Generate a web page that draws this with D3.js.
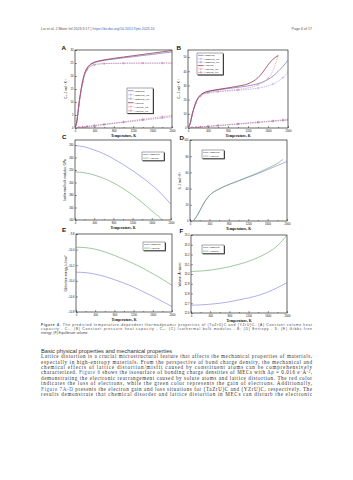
<!DOCTYPE html>
<html>
<head>
<meta charset="utf-8">
<script src="https://cdn.jsdelivr.net/npm/d3@7"></script>
<style>
  body { margin: 0; background: #fff; }
  svg { display: block; }
</style>
</head>
<body>
<script>
'use strict';

// ---- data ----
const tempTicks = [0, 400, 800, 1200, 1600, 2000];

// (A) constant volume heat capacity
const tempA = [0, 40, 80, 120, 160, 200, 250, 300, 400, 500, 600, 800, 1000, 1200, 1400, 1600, 1800, 2000];
const cvTaTot = [0, 2.6, 8.7, 13.8, 17.8, 20.7, 22.8, 24.0, 25.1, 25.6, 26.0, 26.5, 27.0, 27.4, 27.9, 28.3, 28.8, 29.2];
const cvTaVib = [0, 2.5, 8.5, 13.5, 17.5, 20.3, 22.3, 23.4, 24.3, 24.6, 24.75, 24.85, 24.9, 24.92, 24.94, 24.95, 24.96, 24.97];
const cvTaEle = [0, 0.09, 0.17, 0.26, 0.34, 0.43, 0.54, 0.65, 0.86, 1.08, 1.29, 1.72, 2.15, 2.58, 3.01, 3.44, 3.87, 4.3];
const cvYTot = [0, 2.9, 9.2, 14.3, 18.3, 21.1, 23.1, 24.2, 25.3, 25.85, 26.2, 26.8, 27.3, 27.8, 28.3, 28.8, 29.3, 29.8];
const cvYVib = [0, 2.8, 9.0, 14.0, 17.9, 20.6, 22.5, 23.5, 24.35, 24.65, 24.78, 24.87, 24.91, 24.93, 24.95, 24.96, 24.97, 24.98];
const cvYEle = [0, 0.1, 0.19, 0.29, 0.38, 0.48, 0.6, 0.72, 0.96, 1.2, 1.44, 1.92, 2.4, 2.88, 3.36, 3.84, 4.32, 4.8];

// (B) constant pressure heat capacity
const tempB = [0, 40, 80, 120, 160, 200, 250, 300, 400, 500, 600, 800, 1000, 1200, 1400, 1600, 1700, 1800, 1900, 2000];
const tempBY = [0, 40, 80, 120, 160, 200, 250, 300, 400, 500, 600, 800, 1000, 1200, 1400, 1500, 1600, 1700, 1800];
const cpTaTot = [0, 2.6, 8.7, 13.8, 18.0, 20.9, 23.0, 24.3, 25.6, 26.3, 26.9, 27.8, 28.7, 29.7, 31.3, 34.2, 36.6, 39.8, 43.5, 47.8];
const cpTaVib = [0, 2.5, 8.5, 13.5, 17.6, 20.4, 22.4, 23.6, 24.7, 25.2, 25.6, 26.1, 26.6, 27.2, 28.1, 29.7, 31.0, 32.9, 35.6, 39.3];
const cpTaEle = [0, 0.1, 0.2, 0.3, 0.4, 0.5, 0.65, 0.8, 1.1, 1.35, 1.65, 2.2, 2.75, 3.3, 3.85, 4.4, 4.7, 5.0, 5.3, 5.6];
const cpYTot = [0, 2.9, 9.2, 14.3, 18.4, 21.2, 23.3, 24.6, 25.9, 26.6, 27.2, 28.3, 29.5, 31.2, 35.5, 39.5, 44.5, 48.5, 51.0];
const cpYVib = [0, 2.8, 9.0, 14.0, 18.0, 20.7, 22.7, 23.9, 25.0, 25.5, 25.9, 26.5, 27.2, 28.3, 30.5, 32.3, 35.0, 40.5, 51.0];
const cpYEle = [0, 0.12, 0.24, 0.36, 0.48, 0.6, 0.75, 0.9, 1.2, 1.5, 1.8, 2.4, 3.0, 3.6, 4.2, 4.8, 5.1, 5.4, 5.7, 6.0];

// (C) isothermal bulk modulus, GPa
const tempC = [0, 200, 400, 600, 800, 1000, 1200, 1400, 1600, 1800, 2000];
const tempCY = [0, 200, 400, 600, 800, 1000, 1200, 1400, 1600, 1800, 1840];
const bulkTa = [259, 257, 252, 246, 238, 229, 219, 208, 196, 182, 165];
const bulkY = [217, 215.5, 212, 206.5, 199.5, 190.5, 180, 168, 154.5, 141.5, 138];

// (D) entropy
const tempD = [70, 100, 150, 200, 300, 400, 600, 800, 1000, 1200, 1400, 1600, 1800, 2000];
const tempDY = [70, 100, 150, 200, 300, 400, 600, 800, 1000, 1200, 1400, 1600, 1800, 1920];
const entTa = [0, 2.5, 7, 12.5, 23.5, 31.5, 39.5, 45, 49.5, 54, 58.5, 63.5, 68.5, 73.5];
const entY = [0, 2.5, 7, 12.5, 23.5, 31.5, 39.5, 45, 49.7, 54.5, 59.5, 65, 71, 76.2];

// (E) Gibbs free energy
const tempE = [0, 200, 400, 600, 800, 1000, 1200, 1400, 1600, 1800, 2000];
const gibbsTa = [-10.29, -10.295, -10.315, -10.345, -10.385, -10.43, -10.48, -10.54, -10.6, -10.665, -10.73];
const gibbsY = [-9.97, -9.975, -9.995, -10.03, -10.075, -10.125, -10.18, -10.24, -10.31, -10.38, -10.46];

// (F) equilibrium volume
const volTa = [12.68, 12.683, 12.69, 12.70, 12.715, 12.735, 12.755, 12.78, 12.815, 12.86, 12.91];
const volY = [13.026, 13.03, 13.04, 13.055, 13.075, 13.1, 13.13, 13.17, 13.22, 13.29, 13.4];

// tick labels
const ticksA = [0, 5, 10, 15, 20, 25, 30];
const ticksB = [0, 10, 20, 30, 40, 50];
const ticksC = [140, 160, 180, 200, 220, 240, 260];
const ticksD = [0, 20, 40, 60, 80, 100];
const ticksE = [-10.8, -10.6, -10.4, -10.2, -10.0, -9.8];
const ticksF = [12.6, 12.7, 12.8, 12.9, 13.0, 13.1, 13.2, 13.3, 13.4];

const namesTa = ['(TaZrU)C', '(TaZrU)C_vib', '(TaZrU)C_ele'];
const namesY = ['(YZrU)C', '(YZrU)C_vib', '(YZrU)C_ele'];

// ---- page ----
const W = 353, H = 480;
const SANS = 'Liberation Sans, Arial, sans-serif';
const SERIF = 'Liberation Serif, Times New Roman, serif';
const BLUE = '#6d6dd8', GREEN = '#4f9a4f';

const svg = d3.select('body').append('svg').attr('width', W).attr('height', H);
svg.append('rect').attr('width', W).attr('height', H).attr('fill', '#fff');

function drawPanel(p) {
    const [x0, x1, y0, y1] = p.box;
    const x = d3.scaleLinear().domain([0, 2000]).range([x0, x1]);
    const y = d3.scaleLinear().domain(p.yDomain).range([y1, y0]);
    const g = svg.append('g');
    const clipId = 'clip-' + p.label;
    g.append('clipPath').attr('id', clipId).append('rect')
        .attr('x', x0).attr('y', y0).attr('width', x1 - x0).attr('height', y1 - y0);

    const xAxis = g.append('g').attr('transform', `translate(0,${y1})`)
        .call(d3.axisBottom(x).tickValues(tempTicks).tickSize(-2).tickPadding(1.6).tickFormat(d3.format('d')));
    const xMinor = g.append('g').attr('transform', `translate(0,${y1})`)
        .call(d3.axisBottom(x).tickValues(tempTicks.slice(1).map(d => d - 200)).tickSize(-1).tickFormat(''));
    const yAxis = g.append('g').attr('transform', `translate(${x0},0)`)
        .call(d3.axisLeft(y).tickValues(p.ticks).tickSize(-2).tickPadding(1.4).tickFormat(d3.format(p.fmt)));
    [xAxis, xMinor, yAxis].forEach(a => {
        a.select('.domain').remove();
        a.selectAll('line').attr('stroke', '#000').attr('stroke-width', 0.4);
        a.selectAll('text').attr('font-size', 2.7).attr('font-family', SANS).attr('fill', '#111');
    });
    xAxis.selectAll('text').attr('dy', '0.9em');

    g.append('rect').attr('x', x0).attr('y', y0).attr('width', x1 - x0).attr('height', y1 - y0)
        .attr('fill', 'none').attr('stroke', '#000').attr('stroke-width', 0.6);

    const line = d3.line().x(d => x(d[0])).y(d => y(d[1])).curve(d3.curveMonotoneX);
    p.series.forEach(s => {
        const pts = d3.zip(s.t, s.v);
        g.append('path').attr('clip-path', `url(#${clipId})`)
            .attr('d', line(pts)).attr('fill', 'none')
            .attr('stroke', s.color).attr('stroke-width', s.w || 0.55)
            .attr('stroke-dasharray', s.dash || null);
        if (s.marker) {
            g.append('g').attr('clip-path', `url(#${clipId})`)
                .selectAll('path').data(pts.filter((d, i) => i % 2 === 0 || i === pts.length - 1)).join('path')
                .attr('transform', d => `translate(${x(d[0])},${y(d[1])})`)
                .attr('d', d3.symbol(s.marker === 'tri' ? d3.symbolTriangle : d3.symbolCircle).size(1.6))
                .attr('fill', 'none').attr('stroke', s.color).attr('stroke-width', 0.35);
        }
    });

    // panel letter
    g.append('text').attr('x', p.labelPos[0]).attr('y', p.labelPos[1])
        .attr('font-family', SANS).attr('font-weight', 'bold').attr('font-size', 6.2)
        .attr('fill', '#111').text(p.label);

    // axis titles
    g.append('text').attr('x', (x0 + x1) / 2).attr('y', y1 + 9.3)
        .attr('text-anchor', 'middle').attr('font-family', SERIF).attr('font-weight', 'bold')
        .attr('font-size', 3.7).attr('fill', '#111').text('Temperature, K');
    const yt = g.append('text')
        .attr('transform', `translate(${p.yTitleX},${(y0 + y1) / 2}) rotate(-90)`)
        .attr('text-anchor', 'middle').attr('font-family', SANS)
        .attr('font-size', 3.1).attr('fill', '#111');
    p.yTitle.forEach(part => {
        const ts = yt.append('tspan').text(part.t);
        if (part.sub) ts.attr('font-size', 2.2).attr('dy', 0.7);
        if (part.sup) ts.attr('font-size', 2.2).attr('dy', -1.1);
        if (part.back) ts.attr('dy', part.back);
    });

    // legend
    const L = p.legend;
    const h = p.series.length * L.row + 1.4;
    g.append('rect').attr('x', L.x + 0.7).attr('y', L.y + 0.7).attr('width', L.w).attr('height', h).attr('fill', '#000');
    g.append('rect').attr('x', L.x).attr('y', L.y).attr('width', L.w).attr('height', h)
        .attr('fill', '#fff').attr('stroke', '#000').attr('stroke-width', 0.35);
    p.series.forEach((s, i) => {
        const cy = L.y + 0.7 + L.row * (i + 0.5);
        g.append('line').attr('x1', L.x + 1).attr('x2', L.x + 6.5).attr('y1', cy).attr('y2', cy)
            .attr('stroke', s.color).attr('stroke-width', s.w || 0.55).attr('stroke-dasharray', s.dash || null);
        if (s.marker) {
            g.append('path').attr('transform', `translate(${L.x + 3.75},${cy})`)
                .attr('d', d3.symbol(s.marker === 'tri' ? d3.symbolTriangle : d3.symbolCircle).size(1.6))
                .attr('fill', 'none').attr('stroke', s.color).attr('stroke-width', 0.35);
        }
        g.append('text').attr('x', L.x + 7.3).attr('y', cy).attr('dy', '0.35em')
            .attr('font-family', SANS).attr('font-size', 2.5).attr('fill', '#111').text(s.name);
    });
}

const TA_TOT = '#4a4ab8', TA_VIB = '#8e8ee8', TA_ELE = '#7b7bd4';
const Y_TOT = '#8a1d30', Y_VIB = '#d77b92', Y_ELE = '#c8627c';
const jk = [{ t: ', J mol' }, { t: '-1', sup: true }, { t: ' K', back: 1.1 }, { t: '-1', sup: true }];

drawPanel({
    label: 'A', labelPos: [61.5, 49.5], box: [75, 172, 50, 128], yDomain: [0, 30], ticks: ticksA, fmt: 'd',
    yTitleX: 66.5, yTitle: [{ t: 'C' }, { t: 'V', sub: true }, { t: '', back: -0.7 }].concat(jk),
    legend: { x: 127, y: 88, w: 26, row: 4 },
    series: [
        { name: namesTa[0], t: tempA, v: cvTaTot, color: TA_TOT },
        { name: namesTa[1], t: tempA, v: cvTaVib, color: TA_VIB, dash: '1.5,0.8', marker: 'circle' },
        { name: namesTa[2], t: tempA, v: cvTaEle, color: TA_ELE, dash: '1.5,0.8', marker: 'tri' },
        { name: namesY[0], t: tempA, v: cvYTot, color: Y_TOT, w: 0.7 },
        { name: namesY[1], t: tempA, v: cvYVib, color: Y_VIB, dash: '1.5,0.8', marker: 'circle' },
        { name: namesY[2], t: tempA, v: cvYEle, color: Y_ELE, dash: '1.5,0.8', marker: 'tri' }
    ]
});

drawPanel({
    label: 'B', labelPos: [176.5, 49.5], box: [188, 288, 50, 128], yDomain: [0, 55], ticks: ticksB, fmt: 'd',
    yTitleX: 179.5, yTitle: [{ t: 'C' }, { t: 'P', sub: true }, { t: '', back: -0.7 }].concat(jk),
    legend: { x: 197, y: 53, w: 26, row: 3.4 },
    series: [
        { name: namesTa[0], t: tempB, v: cpTaTot, color: TA_TOT },
        { name: namesTa[1], t: tempB, v: cpTaVib, color: TA_VIB, dash: '1.5,0.8', marker: 'circle' },
        { name: namesTa[2], t: tempB, v: cpTaEle, color: TA_ELE, dash: '1.5,0.8', marker: 'tri' },
        { name: namesY[0], t: tempBY, v: cpYTot, color: Y_TOT, w: 0.7 },
        { name: namesY[1], t: tempBY, v: cpYVib, color: Y_VIB, dash: '1.5,0.8', marker: 'circle' },
        { name: namesY[2], t: tempB, v: cpYEle, color: Y_ELE, dash: '1.5,0.8', marker: 'tri' }
    ]
});

drawPanel({
    label: 'C', labelPos: [62, 138.5], box: [75, 171, 140, 220], yDomain: [140, 268], ticks: ticksC, fmt: 'd',
    yTitleX: 65.5, yTitle: [{ t: 'Isothermal bulk modulus, GPa' }],
    legend: { x: 142, y: 152, w: 22, row: 3.6 },
    series: [
        { name: namesTa[0], t: tempC, v: bulkTa, color: BLUE },
        { name: namesY[0], t: tempCY, v: bulkY, color: GREEN }
    ]
});

drawPanel({
    label: 'D', labelPos: [179.5, 139.5], box: [190, 287, 140, 221], yDomain: [0, 100], ticks: ticksD, fmt: 'd',
    yTitleX: 181, yTitle: [{ t: 'S' }].concat(jk),
    legend: { x: 202, y: 150, w: 22, row: 3.6 },
    series: [
        { name: namesTa[0], t: tempD, v: entTa, color: BLUE },
        { name: namesY[0], t: tempDY, v: entY, color: GREEN }
    ]
});

drawPanel({
    label: 'E', labelPos: [62, 232], box: [76, 172, 234, 312], yDomain: [-10.8, -9.8], ticks: ticksE, fmt: '.1f',
    yTitleX: 66.5, yTitle: [{ t: 'Gibbs free energy, kJ mol' }, { t: '-1', sup: true }],
    legend: { x: 143, y: 242, w: 22, row: 3.6 },
    series: [
        { name: namesTa[0], t: tempE, v: gibbsTa, color: BLUE },
        { name: namesY[0], t: tempE, v: gibbsY, color: GREEN }
    ]
});

drawPanel({
    label: 'F', labelPos: [179.5, 232.5], box: [191, 287, 235, 313], yDomain: [12.6, 13.4], ticks: ticksF, fmt: '.1f',
    yTitleX: 181, yTitle: [{ t: 'Volume, \u00c5' }, { t: '3', sup: true }, { t: ' atom', back: 1.1 }, { t: '-1', sup: true }],
    legend: { x: 202, y: 245, w: 22, row: 3.6 },
    series: [
        { name: namesTa[0], t: tempE, v: volTa, color: BLUE },
        { name: namesY[0], t: tempE, v: volY, color: GREEN }
    ]
});

// ---- page text ----
const LEFT = 41, RIGHT = 312;

function textLine(y, parts, o) {
    const t = svg.append('text').attr('x', o.anchor === 'end' ? RIGHT : LEFT).attr('y', y)
        .attr('font-family', o.family).attr('font-size', o.size).attr('fill', o.fill || '#222')
        .attr('text-anchor', o.anchor || 'start');
    if (o.justify) t.attr('textLength', RIGHT - LEFT).attr('lengthAdjust', 'spacing');
    parts.forEach(p => {
        if (typeof p === 'string') { t.append('tspan').text(p); return; }
        const ts = t.append('tspan').text(p.t);
        if (p.fill) ts.attr('fill', p.fill);
        if (p.bold) ts.attr('font-weight', 'bold');
        if (p.sub) ts.attr('font-size', o.size * 0.7).attr('dy', o.size * 0.2);
        if (p.sup) ts.attr('font-size', o.size * 0.7).attr('dy', -o.size * 0.35);
        if (p.back) ts.attr('dy', p.back);
    });
    return t;
}

const LINK = '#3a6db5';
textLine(29.5, ['Liu et al. J Mater Inf 2023;3:17  |  ', { t: 'https://dx.doi.org/10.20517/jmi.2023.16', fill: LINK }],
    { family: SANS, size: 3.6, fill: '#555' });
textLine(29.5, ['Page 6 of 17'], { family: SANS, size: 3.6, fill: '#555', anchor: 'end' });

const capOpt = { family: SANS, size: 3.42, fill: '#444', justify: true };
textLine(325.5, [{ t: 'Figure 4.', bold: true }, ' The predicted temperature-dependent thermodynamic properties of (TaZrU)C and (YZrU)C. (A) Constant volume heat'], capOpt);
textLine(329.7, ['capacity - C', { t: 'V', sub: true }, { t: '; (B) Constant pressure heat capacity - C', back: -0.68 }, { t: 'P', sub: true },
    { t: '; (C) Isothermal bulk modulus - B; (D) Entropy - S; (E) Gibbs free', back: -0.68 }], capOpt);
textLine(333.9, ['energy; (F) Equilibrium volume.'], { family: SANS, size: 3.42, fill: '#444' });

textLine(352.5, ['Basic physical properties and mechanical properties'], { family: SANS, size: 5.7, fill: '#333' });

const bodyOpt = { family: SERIF, size: 5.1, fill: '#333', justify: true };
const bodyTop = 358.2, lh = 5.4;
const bodyLines = [
    ['Lattice distortion is a crucial microstructural feature that affects the mechanical properties of materials,'],
    ['especially in high-entropy materials. From the perspective of bond charge density, the mechanical and'],
    ['chemical effects of lattice distortion/misfit caused by constituent atoms can be comprehensively'],
    ['characterized. ', { t: 'Figure 6', fill: LINK }, ' shows the isosurface of bonding charge densities of MECs with \u0394\u03c1 = 0.016 e\u00b7\u00c5',
        { t: '-3', sup: true }, { t: ',', back: 1.79 }],
    ['demonstrating the electronic rearrangement caused by solute atoms and lattice distortion. The red color'],
    ['indicates the loss of electrons, while the green color represents the gain of electrons. Additionally,'],
    [{ t: 'Figure 7A-D', fill: LINK }, ' presents the electron gain and loss situations for (TaZrU)C and (YZrU)C, respectively. The'],
    ['results demonstrate that chemical disorder and lattice distortion in MECs can disturb the electronic']
];
bodyLines.forEach((parts, i) => textLine(bodyTop + i * lh, parts, bodyOpt));
</script>
</body>
</html>
